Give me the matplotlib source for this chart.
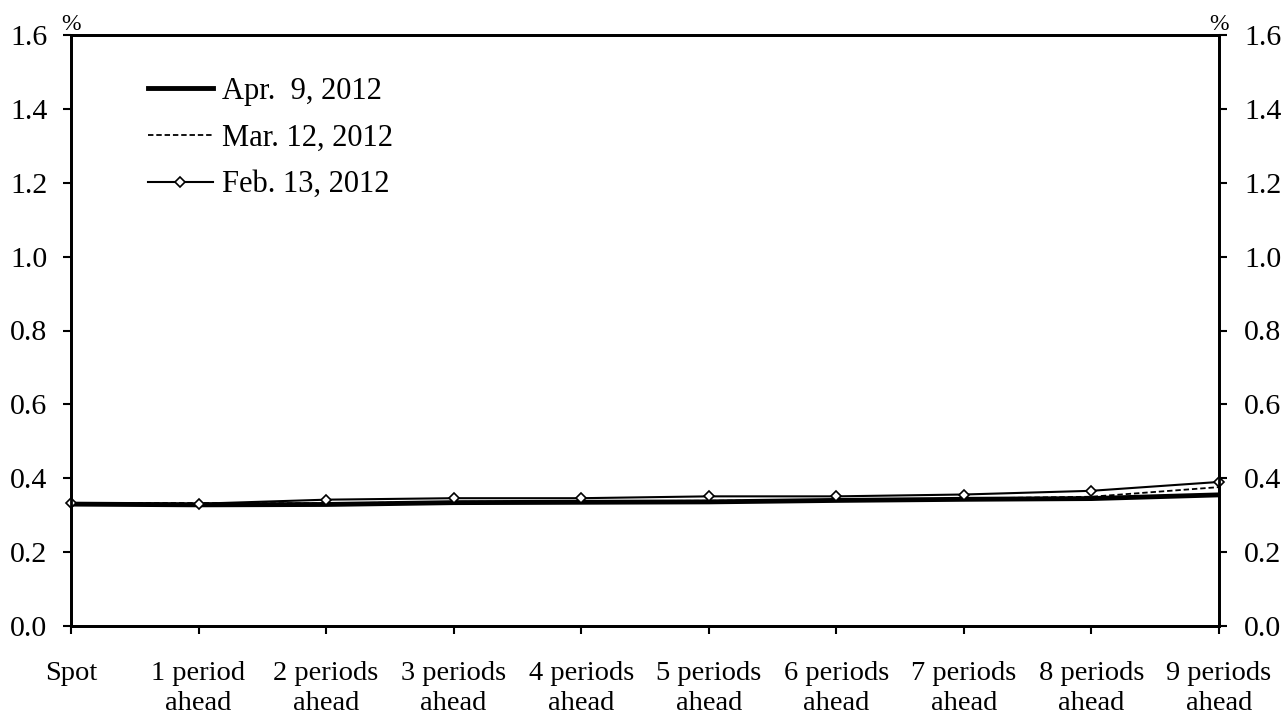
import matplotlib.pyplot as plt

plt.rcParams['font.family'] = ['Liberation Serif', 'DejaVu Serif']

categories = ['Spot', '1 period\nahead', '2 periods\nahead', '3 periods\nahead',
              '4 periods\nahead', '5 periods\nahead', '6 periods\nahead',
              '7 periods\nahead', '8 periods\nahead', '9 periods\nahead']
apr = [0.330, 0.328, 0.329, 0.334, 0.335, 0.336, 0.340, 0.343, 0.345, 0.355]
mar = [0.333, 0.333, 0.332, 0.336, 0.338, 0.339, 0.341, 0.345, 0.350, 0.376]
feb = [0.333, 0.331, 0.342, 0.346, 0.346, 0.351, 0.351, 0.356, 0.366, 0.390]
yticks = [0.0, 0.2, 0.4, 0.6, 0.8, 1.0, 1.2, 1.4, 1.6]

fig = plt.figure(figsize=(12.85, 7.15), dpi=100)
ax = fig.add_axes([71/1285, 1 - 626/715, (1219-71)/1285, (626-35)/715])
x = list(range(len(categories)))

ax.plot(x, apr, color='black', lw=3.5, label='Apr.  9, 2012', zorder=3)
ax.plot(x, mar, color='black', lw=1.3, ls=(0, (3, 1.6)), label='Mar. 12, 2012', zorder=2)
ax.plot(x, feb, color='black', lw=1.5, marker='D', markersize=5,
        markerfacecolor='white', markeredgecolor='black', markeredgewidth=1.2,
        label='Feb. 13, 2012', zorder=4, clip_on=False)

ax.set_xlim(0, 9)
ax.set_ylim(0, 1.6)
ax.set_xticks(x)
ax.set_xticklabels(categories, fontsize=20.5, linespacing=1.3)
ax.set_yticks(yticks)
ax.set_yticklabels([f'{v:.1f}' for v in yticks], fontsize=21.5)
ax.tick_params(axis='both', direction='out', length=6, width=1.5, colors='black')
ax.tick_params(axis='x', pad=19)
ax.tick_params(axis='y', pad=11)

ax2 = ax.twinx()
ax2.set_ylim(0, 1.6)
ax2.set_yticks(yticks)
ax2.set_yticklabels([f'{v:.1f}' for v in yticks], fontsize=21.5)
ax2.tick_params(axis='y', direction='out', length=6, width=1.5, pad=12)

for a in (ax, ax2):
    for s in a.spines.values():
        s.set_linewidth(2)

ax.text(0, 1.6, '%', fontsize=17, ha='center', va='bottom')
ax.text(9, 1.6, '%', fontsize=17, ha='center', va='bottom')

leg = ax.legend(loc='upper left', bbox_to_anchor=(0.056, 0.95), frameon=False,
                fontsize=22, handlelength=2.15, handletextpad=0.3, labelspacing=0.58,
                borderaxespad=0)

fig.savefig('out.png', dpi=100)
